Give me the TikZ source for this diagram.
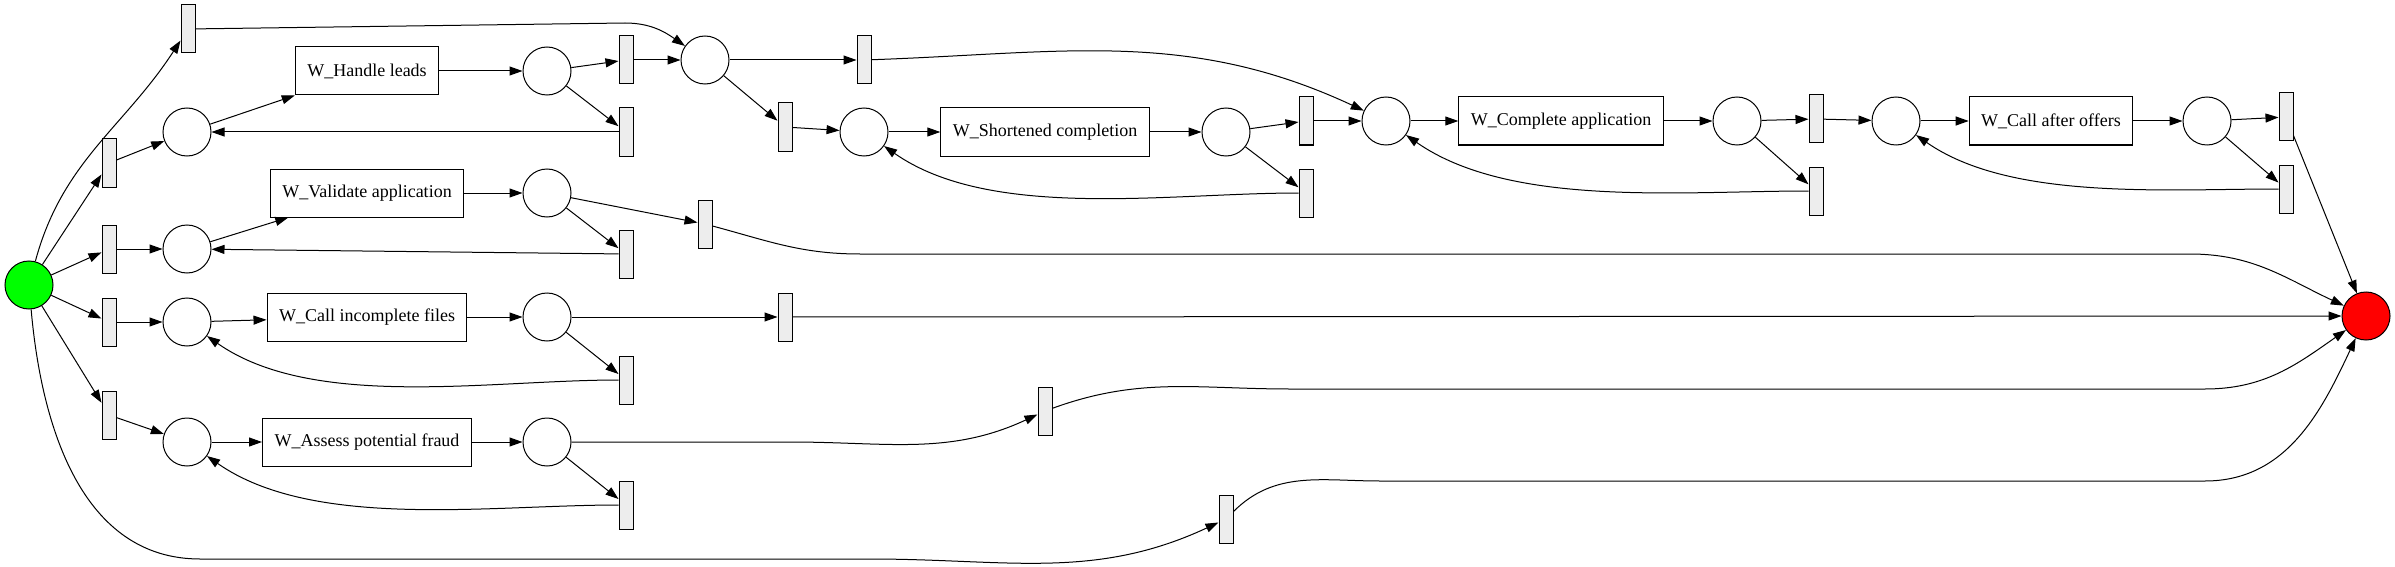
\documentclass[tikz,border=0pt]{standalone}
\usepackage{fontspec}
\setmainfont{Liberation Serif}
\usetikzlibrary{arrows.meta}

\tikzset{
  place/.style={circle, draw, line width=1pt, minimum size=48pt, inner sep=0pt},
  trans/.style={rectangle, draw, line width=1pt, fill=black!7, minimum width=14pt, minimum height=48pt, inner sep=0pt},
  task/.style={rectangle, draw, line width=1pt, minimum height=48pt, inner xsep=12pt, font=\fontsize{18}{20}\selectfont},
  arc/.style={-{Triangle[length=13pt,width=9pt]}, line width=1pt},
  loopback/.style={arc, out=180, in=-35, looseness=0.8}
}

\begin{document}
\begin{tikzpicture}[x=1pt,y=1pt]
    \useasboundingbox (0,0) rectangle (2395,-567);
    % Source and sink
    \node[place, fill=green] (src) at (29,-285) {};
    \node[place, fill=red] (snk) at (2366,-316) {};
    % Places
    \foreach \n/\x/\y in {pL1/187/132, pL2/547/71, pV1/187/249, pV2/547/193,
        pC1/187/322, pC2/547/317, pF1/187/442, pF2/547/442, pJ/705/60,
        pS1/864/132, pS2/1226/132, pA1/1386/121, pA2/1737/121,
        pO1/1896/121, pO2/2207/121}
      \node[place] (\n) at (\x,-\y) {};
    % Transitions
    \foreach \n/\x/\y in {t1/188/29, tL0/109/163, tV0/109/249, tC0/109/322, tF0/109/415,
        tLx/626/60, tLr/626/132, tVr/626/254, tVx/705/224, tCr/626/380, tCx/785/317,
        tFr/626/505, tFx/1045/411, tB/1226/519, tJx/864/60, tJs/785/127,
        tSx/1306/121, tSr/1306/193, tAx/1816/119, tAr/1816/191,
        tOx/2286/117, tOr/2286/189}
      \node[trans] (\n) at (\x,-\y) {};
    % Activities
    \node[task] (aL) at (367,-71) {W\_Handle leads};
    \node[task] (aV) at (367,-193) {W\_Validate application};
    \node[task] (aC) at (367,-317) {W\_Call incomplete files};
    \node[task] (aF) at (367,-442) {W\_Assess potential fraud};
    \node[task] (aS) at (1045,-132) {W\_Shortened completion};
    \node[task] (aA) at (1561,-121) {W\_Complete application};
    \node[task] (aO) at (2051,-121) {W\_Call after offers};
    % Straight arcs
    \foreach \a/\b in {src/tL0, src/tV0, src/tC0, src/tF0,
        tL0/pL1, pL1/aL, aL/pL2, pL2/tLx, pL2/tLr, tLr/pL1, tLx/pJ,
        tV0/pV1, pV1/aV, aV/pV2, pV2/tVr, tVr/pV1, pV2/tVx,
        tC0/pC1, pC1/aC, aC/pC2, pC2/tCr, pC2/tCx, tCx/snk,
        tF0/pF1, pF1/aF, aF/pF2, pF2/tFr,
        pJ/tJx, pJ/tJs, tJs/pS1, pS1/aS, aS/pS2, pS2/tSx, pS2/tSr, tSx/pA1,
        pA1/aA, aA/pA2, pA2/tAx, pA2/tAr, tAx/pO1,
        pO1/aO, aO/pO2, pO2/tOx, pO2/tOr, tOx/snk}
      \draw[arc] (\a) -- (\b);
    % Loop-back arcs
    \foreach \a/\b in {tCr/pC1, tFr/pF1, tSr/pS1, tAr/pA1, tOr/pO1}
      \draw[loopback] (\a) to (\b);
    % Long arcs
    \draw[arc] (src) to[out=75, in=237] (t1);
    \draw[arc] (src) to[out=-85, in=180] (200,-559) -- (870,-559) to[out=0, in=205] (tB);
    \draw[arc] (t1) -- (625,-23) to[out=0, in=145] (pJ);
    \draw[arc] (tJx) to[out=2, in=155] (pA1);
    \draw[arc] (tVx) to[out=-15, in=180] (860,-254) -- (2190,-254) to[out=0, in=155] (snk);
    \draw[arc] (pF2) -- (790,-442) to[out=0, in=205] (tFx);
    \draw[arc] (tFx) to[out=20, in=180] (1290,-389) -- (2205,-389) to[out=0, in=215] (snk);
    \draw[arc] (tB) to[out=45, in=180] (1380,-481) -- (2205,-481) to[out=0, in=245] (snk);
\end{tikzpicture}
\end{document}
